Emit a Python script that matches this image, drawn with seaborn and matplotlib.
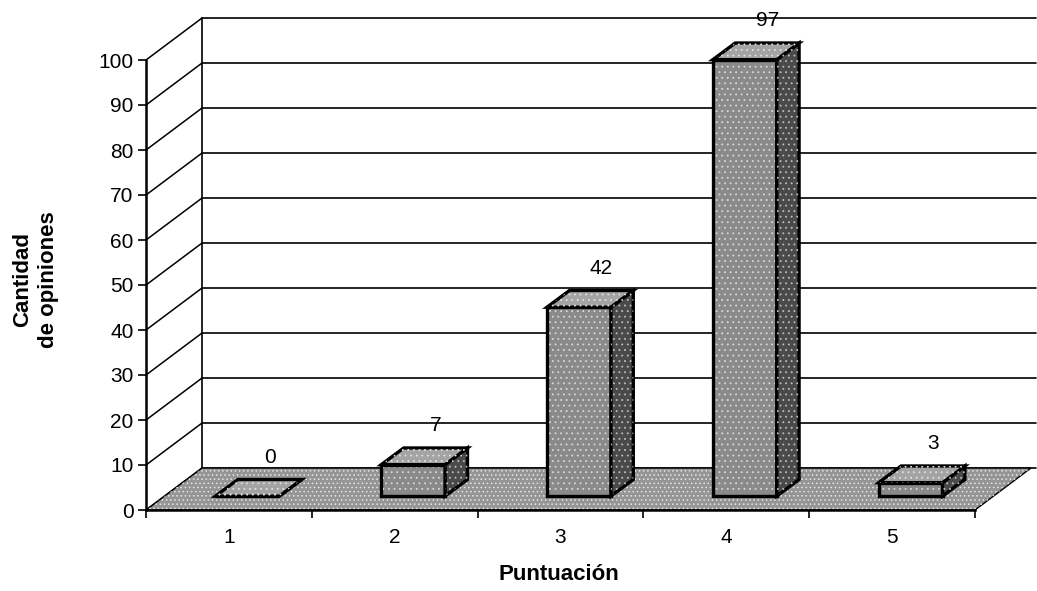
import matplotlib
matplotlib.use('Agg')
import matplotlib.pyplot as plt
from matplotlib.patches import Polygon
import seaborn as sns

# Datos del gráfico
scores = ['1', '2', '3', '4', '5']
opinions = [0, 7, 42, 97, 3]
y_ticks = list(range(0, 101, 10))

sns.set_style('white', {'axes.edgecolor': 'black', 'text.color': 'black',
                        'xtick.color': 'black', 'ytick.color': 'black', 'axes.labelcolor': 'black'})
plt.rcParams['font.family'] = ['Liberation Sans', 'DejaVu Sans']
plt.rcParams['hatch.linewidth'] = 0.6

fig = plt.figure(figsize=(10.37, 5.91), dpi=100)
ax = fig.add_axes([146 / 1037, 81 / 591, 829 / 1037, 450 / 591])

sns.barplot(x=scores, y=opinions, color='#8a8a8a', width=0.385,
            edgecolor='black', linewidth=2.4, zorder=5, ax=ax)
ax.set_xlim(-0.5, 4.5)
ax.set_ylim(0, 100)

# profundidad del suelo (en unidades de datos) y de las barras
dx, dy = 0.338, 9.33
f_off = 0.33
bdx, bdy = 0.135, 3.7

# pared del fondo: líneas horizontales, diagonales y borde izquierdo
x_back = -0.5 + dx
x_right = 4.5 + dx + 0.03
for v in y_ticks:
    ax.plot([x_back, x_right], [v + dy, v + dy], color='black', lw=1.2, zorder=1, clip_on=False)
    ax.plot([-0.5, x_back], [v, v + dy], color='black', lw=1.1, zorder=1, clip_on=False)
ax.plot([x_back, x_back], [dy, 100 + dy], color='black', lw=1.2, zorder=1, clip_on=False)

# suelo
floor = [(-0.5, 0), (4.5, 0), (4.5 + dx, dy), (-0.5 + dx, dy)]
ax.add_patch(Polygon(floor, closed=True, facecolor='#959595', edgecolor='black', lw=1.0, zorder=2, clip_on=False))
ax.add_patch(Polygon(floor, closed=True, fill=False, edgecolor='#e6e6e6', lw=0, hatch='....', zorder=2.5, clip_on=False))

# caras 3D de las barras
bars = list(ax.patches[:len(opinions)])
for p, val in zip(bars, opinions):
    x0 = p.get_x() + f_off * dx
    y0 = f_off * dy
    w = p.get_width()
    h = p.get_height()
    p.set_x(x0)
    p.set_y(y0)
    p.set_clip_on(False)
    ax.add_patch(Polygon([(x0 + 0.012, y0 + 0.6), (x0 + w - 0.012, y0 + 0.6), (x0 + w - 0.012, y0 + h - 0.6), (x0 + 0.012, y0 + h - 0.6)],
                         closed=True, fill=False, edgecolor='#d8d8d8', lw=0, hatch='...', zorder=5.5, clip_on=False))
    top = [(x0, y0 + h), (x0 + w, y0 + h), (x0 + w + bdx, y0 + h + bdy), (x0 + bdx, y0 + h + bdy)]
    side = [(x0 + w, y0), (x0 + w + bdx, y0 + bdy), (x0 + w + bdx, y0 + h + bdy), (x0 + w, y0 + h)]
    ax.add_patch(Polygon(side, closed=True, facecolor='#4a4a4a', edgecolor='black', lw=2.4, zorder=5, clip_on=False))
    ax.add_patch(Polygon(side, closed=True, fill=False, edgecolor='#bdbdbd', lw=0, hatch='...', zorder=5.2, clip_on=False))
    ax.add_patch(Polygon(top, closed=True, facecolor='#a4a4a4', edgecolor='black', lw=2.4, zorder=5, clip_on=False))
    ax.add_patch(Polygon(top, closed=True, fill=False, edgecolor='#e0e0e0', lw=0, hatch='...', zorder=5.2, clip_on=False))
    ax.annotate(str(val), (x0 + w / 2 + bdx, y0 + h + bdy), xytext=(0, 16), textcoords='offset points',
                ha='center', va='center', fontsize=15, color='black', zorder=7, annotation_clip=False)

# ejes
sns.despine(ax=ax, top=True, right=True)
ax.spines['left'].set_linewidth(1.8)
ax.spines['bottom'].set_linewidth(1.8)
ax.spines['left'].set_zorder(3)
ax.spines['bottom'].set_zorder(3)
ax.set_yticks(y_ticks)
ax.set_yticklabels([str(v) for v in y_ticks], fontsize=15)
ax.tick_params(axis='y', direction='out', length=6, width=1.2, pad=3, left=True, colors='black')
ax.set_xticks(range(len(scores)))
ax.set_xticklabels(scores, fontsize=15)
ax.set_xticks([i - 0.5 for i in range(len(scores) + 1)], minor=True)
ax.tick_params(axis='x', which='major', length=0, pad=13, colors='black')
ax.tick_params(axis='x', which='minor', direction='out', length=6, width=1.2, bottom=True, colors='black')
ax.set_xlabel('')
ax.set_ylabel('')
ax.patch.set_alpha(0)

fig.text(559 / 1037, 1 - 575 / 591, 'Puntuación', ha='center', va='center', fontsize=16,
         fontweight='bold', color='black')
fig.text(36 / 1037, 1 - 280 / 591, 'Cantidad\nde opiniones', ha='center', va='center', rotation=90,
         fontsize=16, fontweight='bold', linespacing=1.3, color='black')

fig.savefig('out.png', dpi=100)
